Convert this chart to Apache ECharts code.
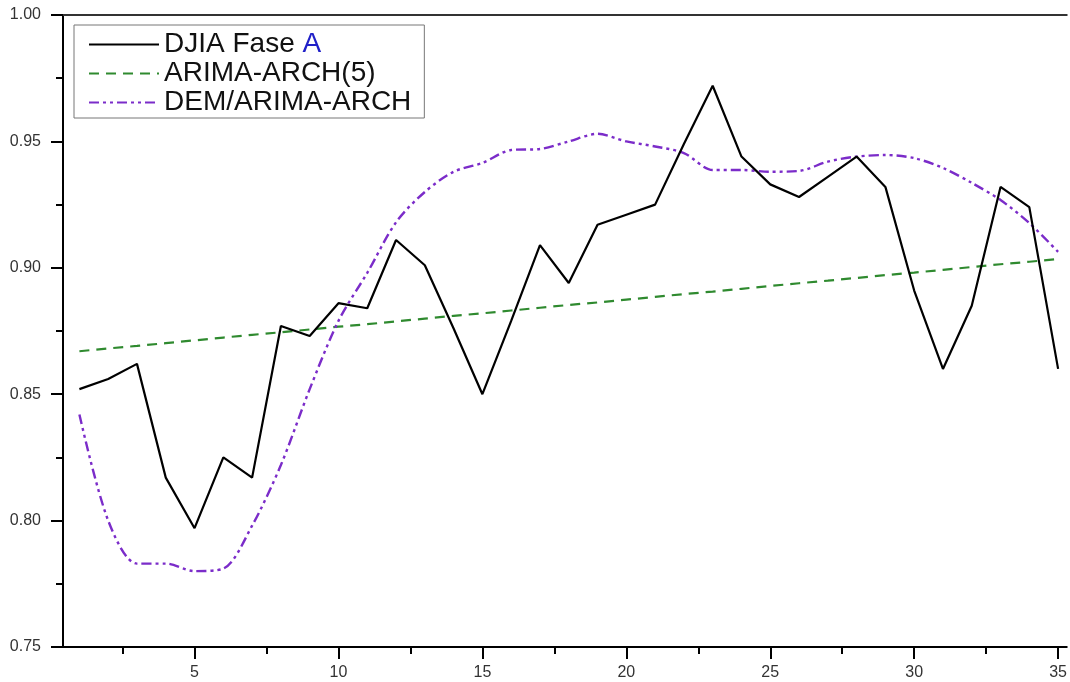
<!DOCTYPE html>
<html>
<head>
<meta charset="utf-8">
<script src="https://cdn.jsdelivr.net/npm/echarts@6/dist/echarts.min.js"></script>
<style>
html,body{margin:0;padding:0;background:#fff;}
#chart{width:1070px;height:682px;}
</style>
</head>
<body>
<div id="chart"></div>
<script>
const xValues = [1,2,3,4,5,6,7,8,9,10,11,12,13,14,15,16,17,18,19,20,21,22,23,24,25,26,27,28,29,30,31,32,33,34,35];
const djia = [0.852,0.856,0.862,0.817,0.797,0.825,0.817,0.877,0.873,0.886,0.884,0.911,0.901,0.876,0.850,0.879,0.909,0.894,0.917,0.921,0.925,0.949,0.972,0.944,0.933,0.928,0.936,0.944,0.932,0.891,0.860,0.885,0.932,0.924,0.860];
const arimaArch = [0.8670,0.8681,0.8691,0.8702,0.8713,0.8724,0.8735,0.8745,0.8756,0.8767,0.8777,0.8788,0.8799,0.8810,0.8820,0.8831,0.8842,0.8853,0.8863,0.8874,0.8885,0.8896,0.8906,0.8917,0.8928,0.8939,0.8949,0.8960,0.8971,0.8981,0.8992,0.9003,0.9014,0.9024,0.9035];
const dem = [0.842,0.800,0.783,0.783,0.780,0.781,0.798,0.822,0.852,0.879,0.898,0.918,0.930,0.938,0.9415,0.9466,0.947,0.950,0.953,0.950,0.948,0.9454,0.9387,0.9387,0.938,0.9383,0.942,0.944,0.9446,0.9434,0.9395,0.9336,0.9268,0.9177,0.9063];
const seriesNames = ['DJIA Fase A','ARIMA-ARCH(5)','DEM/ARIMA-ARCH'];
const xTicks = [5,10,15,20,25,30,35];
const xMinorTicks = [2.5,7.5,12.5,17.5,22.5,27.5,32.5];

const pairs = arr => xValues.map((x,i)=>[x, arr[i]]);
const FONT = 'Liberation Sans, Arial, sans-serif';
const X_MIN = 0.43, X_MAX = 35.3;

const chart = echarts.init(document.getElementById('chart'), null, {renderer:'canvas'});
chart.setOption({
  animation:false,
  backgroundColor:'#fff',
  grid:{left:63, right:0, top:15, bottom:35},
  legend:{
    orient:'vertical', left:74, top:25,
    data:seriesNames,
    borderColor:'#777', borderWidth:1,
    padding:[5,13,1,14],
    itemWidth:70, itemHeight:14, itemGap:0,
    itemStyle:{opacity:0, borderWidth:0},
    textStyle:{fontSize:28, fontFamily:FONT, color:'#111', lineHeight:29,
      rich:{a:{fontSize:28, fontFamily:FONT, color:'#2020c8', lineHeight:29}}},
    formatter: name => name === 'DJIA Fase A' ? 'DJIA Fase {a|A}' : name
  },
  xAxis:[
    {type:'value', min:X_MIN, max:X_MAX, position:'bottom',
     axisLine:{show:true, onZero:false, lineStyle:{color:'#000', width:2}},
     axisTick:{show:true, length:12, customValues:xTicks, lineStyle:{color:'#000', width:2}},
     axisLabel:{show:true, customValues:xTicks, margin:18, fontSize:16, fontFamily:FONT, color:'#333'},
     splitLine:{show:false}},
    {type:'value', min:X_MIN, max:X_MAX, position:'bottom',
     axisLine:{show:false},
     axisTick:{show:true, length:7, customValues:xMinorTicks, lineStyle:{color:'#000', width:2}},
     axisLabel:{show:false}, splitLine:{show:false}},
    {type:'value', min:X_MIN, max:X_MAX, position:'top',
     axisLine:{show:true, onZero:false, lineStyle:{color:'#333', width:2}},
     axisTick:{show:false}, axisLabel:{show:false}, splitLine:{show:false}}
  ],
  yAxis:{
    type:'value', min:0.75, max:1.0, interval:0.05,
    axisLine:{show:true, lineStyle:{color:'#000', width:2}},
    axisTick:{show:true, length:12, lineStyle:{color:'#000', width:2}},
    minorTick:{show:true, splitNumber:2, length:7, lineStyle:{color:'#000', width:2}},
    axisLabel:{margin:22, fontSize:16, fontFamily:FONT, color:'#333', formatter:v=>v.toFixed(2)},
    splitLine:{show:false}, minorSplitLine:{show:false}
  },
  series:[
    {name:seriesNames[0], type:'line', xAxisIndex:0, data:pairs(djia), symbol:'none', showSymbol:false,
     lineStyle:{color:'#000', width:2.2, type:'solid'}, itemStyle:{color:'#000'}, z:5},
    {name:seriesNames[1], type:'line', xAxisIndex:0, data:pairs(arimaArch), symbol:'none', showSymbol:false,
     lineStyle:{color:'#2f8a2f', width:2.2, type:[10,7]}, itemStyle:{color:'#2f8a2f'}, z:3},
    {name:seriesNames[2], type:'line', xAxisIndex:0, data:pairs(dem), symbol:'none', showSymbol:false, smooth:0.3,
     lineStyle:{color:'#7b2cc9', width:2.4, type:[10,4,3,4,3,4]}, itemStyle:{color:'#7b2cc9'}, z:4}
  ]
});
</script>
</body>
</html>
